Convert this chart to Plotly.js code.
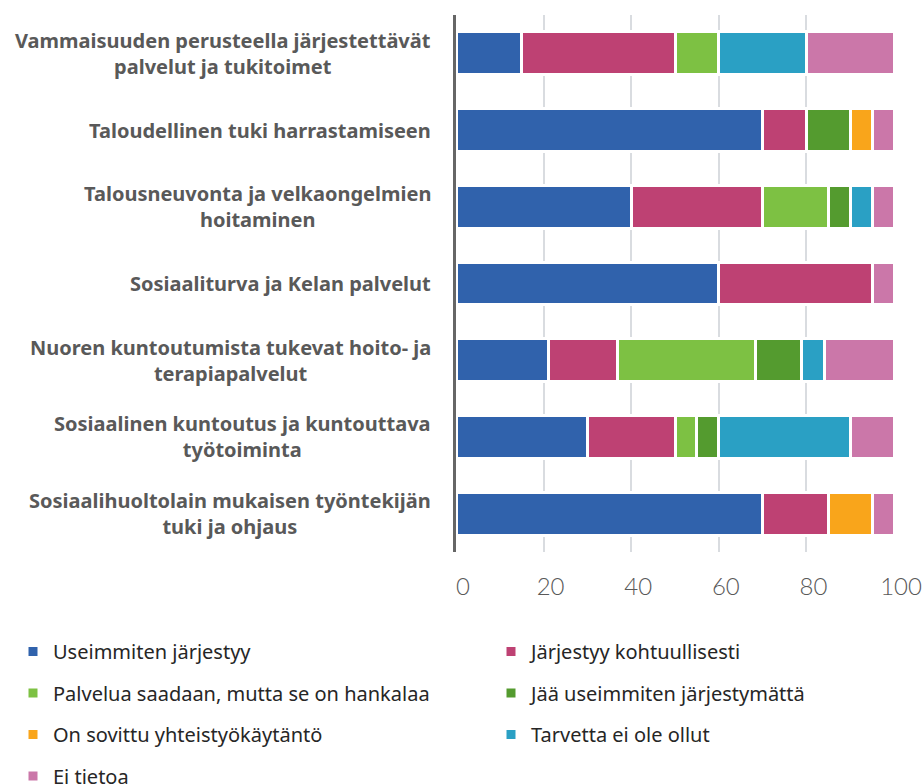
<!DOCTYPE html>
<html>
<head>
<meta charset="utf-8">
<script src="https://cdn.plot.ly/plotly-3.0.1.min.js"></script>
<style>html,body{margin:0;padding:0;background:#fff;}#chart{width:923px;height:784px;}</style>
</head>
<body>
<div id="chart"></div>
<script>
var categories = [
  "Vammaisuuden perusteella järjestettävät<br>palvelut ja tukitoimet",
  "Taloudellinen tuki harrastamiseen",
  "Talousneuvonta ja velkaongelmien<br>hoitaminen",
  "Sosiaaliturva ja Kelan palvelut",
  "Nuoren kuntoutumista tukevat hoito- ja<br>terapiapalvelut",
  "Sosiaalinen kuntoutus ja kuntouttava<br>työtoiminta",
  "Sosiaalihuoltolain mukaisen työntekijän<br>tuki ja ohjaus"
];
var seriesNames = [
  "Useimmiten järjestyy",
  "Järjestyy kohtuullisesti",
  "Palvelua saadaan, mutta se on hankalaa",
  "Jää useimmiten järjestymättä",
  "On sovittu yhteistyökäytäntö",
  "Tarvetta ei ole ollut",
  "Ei tietoa"
];
var useimmiten     = [15, 70, 40, 60, 21.05, 30, 70];
var kohtuullisesti = [35, 10, 30, 35, 15.79, 20, 15];
var hankalaa       = [10, 0, 15, 0, 31.58, 5, 0];
var jaaJarjestymatta = [0, 10, 5, 0, 10.53, 5, 0];
var sovittu        = [0, 5, 0, 0, 0, 0, 10];
var tarvetta       = [20, 0, 5, 0, 5.26, 30, 0];
var eiTietoa       = [20, 5, 5, 5, 15.79, 10, 5];
var tickValues = [0, 20, 40, 60, 80, 100];

var seriesValues = [useimmiten, kohtuullisesti, hankalaa, jaaJarjestymatta, sovittu, tarvetta, eiTietoa];
var colors = ["#3062AC", "#BE4173", "#7DC143", "#549B2F", "#F9A51B", "#2AA0C4", "#CB77A9"];
var legendOf = ["legend", "legend2", "legend", "legend2", "legend", "legend2", "legend"];

var traces = seriesValues.map(function (vals, i) {
  return {
    type: "bar",
    orientation: "h",
    name: seriesNames[i],
    y: categories,
    x: vals,
    legend: legendOf[i],
    legendgroup: "g" + i,
    marker: { color: colors[i], line: { color: "#ffffff", width: 3 } },
    hoverinfo: "skip"
  };
});

var annotations = categories.map(function (c) {
  return {
    xref: "paper", x: 0, xanchor: "right", xshift: -23,
    yref: "y", y: c, yanchor: "middle",
    text: "<b>" + c + "</b>", showarrow: false, align: "center",
    font: { family: "'Noto Sans', sans-serif", size: 20, color: "#595959" }
  };
});

var legendFont = { family: "'Noto Sans', sans-serif", size: 20, color: "#262626" };

var layout = {
  width: 923, height: 784,
  paper_bgcolor: "#ffffff", plot_bgcolor: "#ffffff",
  margin: { l: 456, r: 28.5, t: 15, b: 232, autoexpand: false },
  barmode: "stack",
  bargap: 0.44,
  showlegend: true,
  xaxis: {
    range: [0, 100],
    tickvals: tickValues,
    ticktext: tickValues.map(String),
    showgrid: true, gridcolor: "#D9DCE0", gridwidth: 2,
    zeroline: false, showline: false, ticks: "",
    ticklabelshift: 7, ticklabelstandoff: 18,
    tickfont: { family: "Lato, 'Noto Sans', sans-serif", size: 24, color: "#595959", weight: 300 },
    fixedrange: true
  },
  yaxis: {
    autorange: "reversed",
    showticklabels: false, ticks: "",
    showgrid: false, zeroline: false,
    showline: true, linecolor: "#666666", linewidth: 3,
    fixedrange: true
  },
  legend: {
    xref: "container", yref: "container",
    x: 13 / 923, xanchor: "left",
    y: 1 - 632 / 784, yanchor: "top",
    orientation: "v", traceorder: "grouped", tracegroupgap: 12.5,
    font: legendFont, bgcolor: "rgba(0,0,0,0)"
  },
  legend2: {
    xref: "container", yref: "container",
    x: 491 / 923, xanchor: "left",
    y: 1 - 632 / 784, yanchor: "top",
    orientation: "v", traceorder: "grouped", tracegroupgap: 12.5,
    font: legendFont, bgcolor: "rgba(0,0,0,0)"
  },
  annotations: annotations
};

Plotly.newPlot("chart", traces, layout, { displayModeBar: false, staticPlot: true });
</script>
</body>
</html>
